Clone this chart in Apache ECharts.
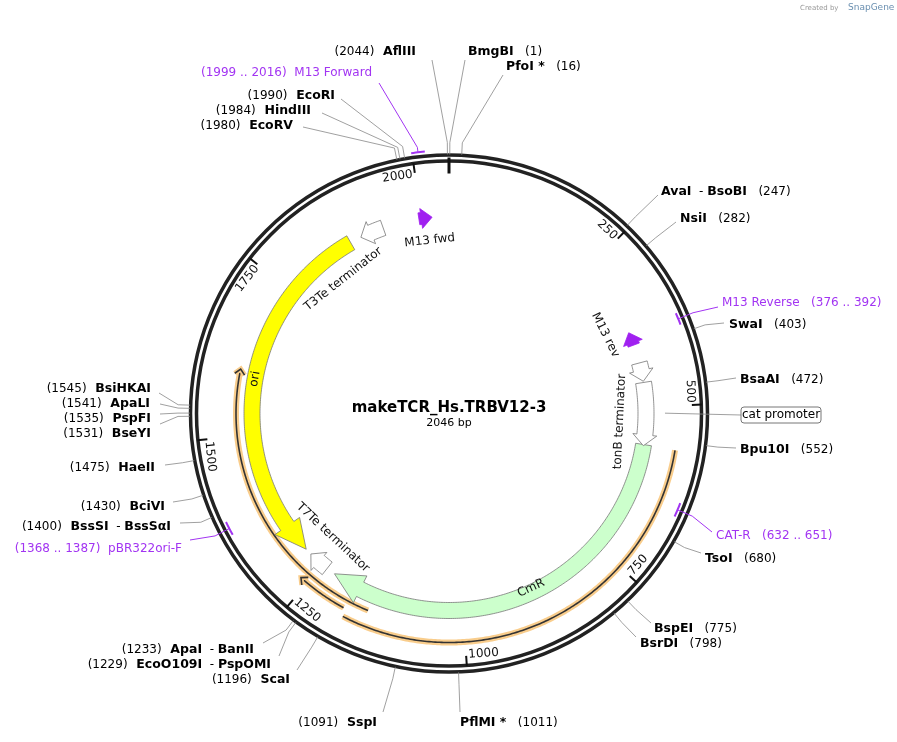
<!DOCTYPE html><html><head><meta charset="utf-8">
<script src="https://cdn.jsdelivr.net/npm/echarts@6/dist/echarts.min.js"></script>
<style>html,body{margin:0;background:#fff}#c{width:897px;height:742px}</style></head><body><div id="c"></div><script>
const TOTAL = 2046;
const title = 'makeTCR_Hs.TRBV12-3';
const subtitle = '2046 bp';
const tickValues = [250, 500, 750, 1000, 1250, 1500, 1750, 2000];

// restriction enzymes
const enzNames = ['AflIII','BmgBI','PfoI *','EcoRI','HindIII','EcoRV','AvaI - BsoBI','NsiI','SwaI','BsaAI','Bpu10I','TsoI','BspEI','BsrDI','PflMI *','SspI','ScaI','EcoO109I - PspOMI','ApaI - BanII','BsiHKAI','ApaLI','PspFI','BseYI','HaeII','BciVI','BssSI - BssSαI'];
const enzPos = [2044,1,16,1990,1984,1980,247,282,403,472,552,680,775,798,1011,1091,1196,1229,1233,1545,1541,1535,1531,1475,1430,1400];
// label layout: [textX, textY, align, lineEndX, lineEndY]
const enzLayout = [[416,52,'right',432,60],[468,52,'left',465,60],[506,67,'left',503,75],[335,96,'right',341,99],[311,111,'right',322,113],[293,126,'right',303,127],
 [661,192,'left',658,195],[680,219,'left',676,222],[729,325,'left',724,323],[740,380,'left',736,378],[740,450,'left',736,448],[705,559,'left',701,553],[654,629,'left',651,623],[640,644,'left',636,637],
 [460,723,'left',460,712],[377,723,'right',383,712],[290,680,'right',297,670],[271,665,'right',279,656],[254,650,'right',263,643],
 [151,389,'right',159,393],[150,404,'right',160,404],[151,419,'right',160,414],[151,434,'right',160,424],[155,468,'right',165,465],[165,507,'right',173,502],[171,527,'right',180,523]];

// primers
const primerNames = ['M13 Forward','M13 Reverse','CAT-R','pBR322ori-F'];
const primerStart = [1999,376,632,1368];
const primerEnd = [2016,392,651,1387];
const primerForward = [true,false,false,false];
const primerLayout = [[372,73,'right',379,83],[722,303,'left',718,307],[716,536,'left',712,532],[182,549,'right',190,540]];

// features: arrows
const featNames = ['CmR','ori','tonB terminator','tonB2','T3Te terminator','T7Te terminator','M13 fwd','M13 rev'];
const featStart = [563,1287,460,427,1895,1240,1996,374];
const featEnd = [1225,1876,565,458,1935,1276,2018,396];
const featForward = [true,false,true,true,false,true,true,false];
const featColor = ['#ccffcc','#ffff00','#ffffff','#ffffff','#ffffff','#ffffff','#a020f0','#a020f0'];
// feature labels: [bp, radius]
const featLabelAt = [[880,193],[1592,197],[527,171],[0,0],[1829,171],[1268,170],[2010,174],[360,175]];
const featLabelText = ['CmR','ori','tonB terminator','','T3Te terminator','T7Te terminator','M13 fwd','M13 rev'];

// orange translated segments
const orStart = [564,1150,1185];
const orEnd = [1180,1603,1262];
const orArrow = [false,true,true];
const orRadius = [229,213,221];

const catPromoter = {text:'cat promoter', bp:511};

const chart = echarts.init(document.getElementById('c'));
const FONT = '"DejaVu Sans", Verdana, sans-serif';
const PURPLE = '#a234f2';

function renderItem(params, api){
  const P = (r,bp)=>api.coord([r,bp]);
  const C = P(0,0);
  const R = r => { const p = P(r,0); return C[1]-p[1]; };
  const ch = [];
  const line = (a,b,stroke,w)=>({type:'polyline',shape:{points:[a,b]},style:{stroke:stroke,lineWidth:w,fill:null}});
  const arcPts = (r,b1,b2)=>{ const pts=[]; const n=Math.max(2,Math.ceil(Math.abs(b2-b1)/3)); for(let i=0;i<=n;i++){pts.push(P(r,b1+(b2-b1)*i/n));} return pts; };
  const rotFor = (bp)=>{ const t=bp/TOTAL*360; const top = (t<=90||t>=270); const deg = top? -t : -(t-180); return {rot:deg*Math.PI/180, top}; };

  ch.push({type:'circle',shape:{cx:C[0],cy:C[1],r:R(258.5)},style:{fill:null,stroke:'#222',lineWidth:3.5}});
  ch.push({type:'circle',shape:{cx:C[0],cy:C[1],r:R(252.5)},style:{fill:null,stroke:'#222',lineWidth:3.5}});
  ch.push(line(P(256,0),P(240,0),'#111',3));
  tickValues.forEach(v=>{
    ch.push(line(P(253,v),P(243,v),'#111',2));
    const o=rotFor(v); const p=P(248,v-3);
    ch.push({type:'text',x:p[0],y:p[1],rotation:o.rot,style:{text:String(v),fontSize:12,fontFamily:FONT,fill:'#111',align:o.top?'right':'left',verticalAlign:o.top?'top':'bottom'}});
  });

  orStart.forEach((s,i)=>{
    const pts = arcPts(orRadius[i],s,orEnd[i]);
    ch.push({type:'polyline',shape:{points:pts},style:{stroke:'#f9cd8c',lineWidth:6,fill:null}});
    ch.push({type:'polyline',shape:{points:pts},style:{stroke:'#333',lineWidth:1.6,fill:null}});
    if(orArrow[i]){
      const e=orEnd[i]; const tip=P(orRadius[i],e);
      const hp=[P(orRadius[i]+5,e-8),tip,P(orRadius[i]-5,e-8)];
      ch.push({type:'polyline',shape:{points:hp},style:{stroke:'#f9cd8c',lineWidth:5,fill:null}});
      ch.push({type:'polyline',shape:{points:hp},style:{stroke:'#333',lineWidth:1.6,fill:null}});
    }
  });

  featNames.forEach((n,i)=>{
    const small = i>=2;
    const r1 = (i>=6)?191:189, r2=(i>=6)?203:205;
    const e = (i>=6)?4:(small?4:7);
    const s=featStart[i], en=featEnd[i];
    const headPx = small?11:30; const rm=(r1+r2)/2;
    const hb = headPx/rm/(2*Math.PI)*TOTAL;
    let pts=[];
    if(featForward[i]){
      const b=en-hb;
      pts = pts.concat(arcPts(r2,s,b)); pts.push(P(r2+e,b)); pts.push(P(rm,en)); pts.push(P(r1-e,b)); pts = pts.concat(arcPts(r1,b,s));
    } else {
      const b=s+hb;
      pts = pts.concat(arcPts(r2,en,b)); pts.push(P(r2+e,b)); pts.push(P(rm,s)); pts.push(P(r1-e,b)); pts = pts.concat(arcPts(r1,b,en));
    }
    ch.push({type:'polygon',shape:{points:pts},style:{fill:featColor[i],stroke:i>=6?featColor[i]:'#777',lineWidth:0.8}});
  });
  featLabelText.forEach((t,i)=>{
    if(!t) return;
    const at = featLabelAt[i];
    const o=rotFor(at[0]); const p=P(at[1],at[0]);
    ch.push({type:'text',x:p[0],y:p[1],rotation:o.rot,style:{text:t,fontSize:12,fontFamily:FONT,fill:'#111',align:'center',verticalAlign:'middle'}});
  });

  enzNames.forEach((n,i)=>{
    const L=enzLayout[i]; const bp=enzPos[i];
    ch.push({type:'polyline',shape:{points:[P(259,bp),P(271,bp),[L[3],L[4]]]},style:{stroke:'#888',lineWidth:0.8,fill:null}});
    const nm = n.split(' - ').join('{n|  - }');
    const txt = L[2]==='right' ? '{p|('+bp+')}  '+nm : nm+'{p|   ('+bp+')}';
    ch.push({type:'text',x:L[0],y:L[1],style:{text:txt,fontSize:12.5,fontWeight:'bold',fontFamily:FONT,fill:'#000',align:L[2],verticalAlign:'middle',
      rich:{p:{fontSize:12,fontWeight:'normal',fontFamily:FONT,fill:'#000'},n:{fontSize:12,fontWeight:'normal',fontFamily:FONT,fill:'#000'}}}});
  });
  primerNames.forEach((n,i)=>{
    const L=primerLayout[i]; const r = primerForward[i]?263:248;
    const mid=(primerStart[i]+primerEnd[i])/2;
    ch.push({type:'polyline',shape:{points:arcPts(r,primerStart[i],primerEnd[i])},style:{stroke:PURPLE,lineWidth:2,fill:null}});
    ch.push({type:'polyline',shape:{points:[P(r,mid),P(primerForward[i]?268:264,mid),[L[3],L[4]]]},style:{stroke:PURPLE,lineWidth:1,fill:null}});
    const range='('+primerStart[i]+' .. '+primerEnd[i]+')';
    const txt = L[2]==='right' ? range+'  '+n : n+'   '+range;
    ch.push({type:'text',x:L[0],y:L[1],style:{text:txt,fontSize:12,fontFamily:FONT,fill:PURPLE,align:L[2],verticalAlign:'middle'}});
  });
  const cp=P(216,catPromoter.bp);
  ch.push(line(cp,[741,415],'#888',0.8));
  ch.push({type:'rect',shape:{x:741,y:407,width:80,height:16,r:3},style:{fill:'#fff',stroke:'#777',lineWidth:1}});
  ch.push({type:'text',x:781,y:415,style:{text:catPromoter.text,fontSize:12,fontFamily:FONT,fill:'#000',align:'center',verticalAlign:'middle'}});
  ch.push({type:'text',x:C[0],y:C[1]-5,style:{text:title,fontSize:15,fontWeight:'bold',fontFamily:FONT,fill:'#000',align:'center',verticalAlign:'middle'}});
  ch.push({type:'text',x:C[0],y:C[1]+10,style:{text:subtitle,fontSize:11,fontFamily:FONT,fill:'#000',align:'center',verticalAlign:'middle'}});
  ch.push({type:'text',x:800,y:8,style:{text:'Created by',fontSize:7,fontFamily:FONT,fill:'#999',align:'left',verticalAlign:'middle'}});
  ch.push({type:'text',x:848,y:8,style:{text:'SnapGene',fontSize:9,fontFamily:FONT,fill:'#6a8fb0',align:'left',verticalAlign:'middle'}});
  return {type:'group',children:ch};
}

chart.setOption({
  animation:false,
  polar:{center:[449,413.5],radius:259},
  angleAxis:{type:'value',min:0,max:TOTAL,startAngle:90,clockwise:true,show:false,axisLine:{show:false},splitLine:{show:false},axisTick:{show:false},axisLabel:{show:false}},
  radiusAxis:{type:'value',min:0,max:259,show:false,axisLine:{show:false},splitLine:{show:false},axisTick:{show:false},axisLabel:{show:false}},
  series:[{type:'custom',coordinateSystem:'polar',silent:true,data:[[0,0]],renderItem:renderItem}]
});
</script></body></html>
